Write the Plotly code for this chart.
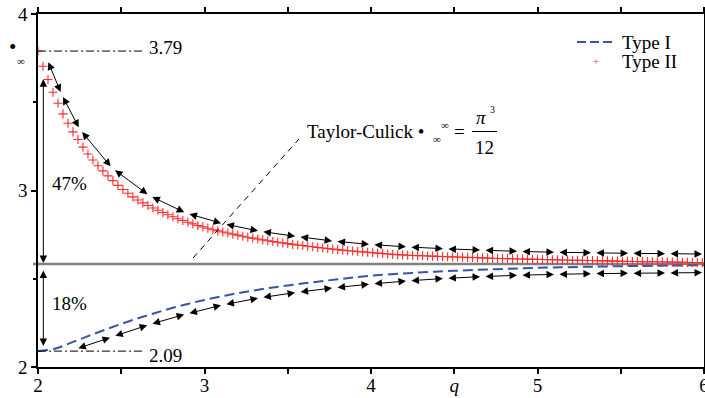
import numpy as np
import plotly.graph_objects as go

# ---------------- data ----------------
TC_LIMIT = np.pi ** 3 / 12          # Taylor-Culick value
MAX_VAL = 3.79
MIN_VAL = 2.09
PCT_UP = "47%"
PCT_DOWN = "18%"

type1_q = [2.0, 2.1, 2.2, 2.3, 2.4, 2.5, 2.6, 2.7, 2.8, 2.9, 3.0, 3.2, 3.4, 3.6,
           3.8, 4.0, 4.25, 4.5, 4.75, 5.0, 5.25, 5.5, 5.75, 6.0]
type1_y = [2.090, 2.103, 2.138, 2.175, 2.210, 2.244, 2.276, 2.305, 2.333, 2.357,
           2.380, 2.418, 2.449, 2.474, 2.497, 2.517, 2.533, 2.545, 2.554, 2.562,
           2.567, 2.571, 2.574, 2.577]

type2_y = [3.790, 3.704, 3.629, 3.557, 3.494, 3.434, 3.381, 3.332, 3.289, 3.246,
           3.207, 3.173, 3.140, 3.111, 3.083, 3.056, 3.029, 3.006, 2.984, 2.964,
           2.946, 2.930, 2.915, 2.901, 2.888, 2.875, 2.863, 2.851, 2.840, 2.830,
           2.820, 2.811, 2.802, 2.794,
           2.786, 2.778, 2.771, 2.765, 2.759, 2.753, 2.747, 2.741, 2.735, 2.730,
           2.725, 2.720, 2.715, 2.711, 2.707, 2.703, 2.699, 2.695, 2.691, 2.688,
           2.684, 2.681, 2.677, 2.674, 2.671, 2.668, 2.665, 2.662, 2.659, 2.657,
           2.654, 2.652, 2.650,
           2.647, 2.645, 2.643, 2.640, 2.638, 2.636, 2.635, 2.633, 2.632, 2.631,
           2.630, 2.629, 2.628, 2.627, 2.626, 2.625, 2.624, 2.623, 2.622, 2.621,
           2.620, 2.619, 2.618, 2.617, 2.616, 2.615, 2.615, 2.614, 2.613, 2.612,
           2.612, 2.611, 2.610,
           2.610, 2.609, 2.608, 2.608, 2.607, 2.606, 2.606, 2.605, 2.604, 2.604,
           2.603, 2.603, 2.602, 2.601, 2.601, 2.600, 2.600, 2.599, 2.599, 2.598,
           2.598, 2.597, 2.597, 2.596, 2.596, 2.595, 2.595, 2.594, 2.594, 2.593,
           2.593, 2.592, 2.592, 2.591]
type2_q = list(np.round(2.0 + 0.03 * np.arange(len(type2_y)), 2))

upper_q = [2.054, 2.14, 2.25, 2.444, 2.667, 2.889, 3.111, 3.333, 3.556, 3.778,
           4.0, 4.222, 4.444, 4.667, 4.889, 5.111, 5.333, 5.556, 5.778, 6.0]
upper_y = [3.745, 3.548, 3.348, 3.128, 2.972, 2.872, 2.812, 2.769, 2.739, 2.713,
           2.694, 2.680, 2.670, 2.662, 2.655, 2.650, 2.647, 2.644, 2.642, 2.640]

lower_q = [2.222, 2.444, 2.667, 2.889, 3.111, 3.333, 3.556, 3.778, 4.0, 4.222,
           4.444, 4.667, 4.889, 5.111, 5.333, 5.556, 5.778, 6.0]
lower_y = [2.100, 2.170, 2.240, 2.300, 2.352, 2.392, 2.423, 2.449, 2.470, 2.488,
           2.502, 2.512, 2.520, 2.525, 2.529, 2.531, 2.533, 2.535]

x_tickvals = [2, 2.5, 3, 3.5, 4, 4.5, 5, 5.5, 6]
x_ticktext = ["2", "", "3", "", "4", "<i>q</i>", "5", "", "6"]
y_tickvals = [2, 3, 4]
y_ticktext = ["2", "3", "4"]

# ---------------- layout helpers ----------------
W, H = 705, 398
ML, MR, MT, MB = 38, 1, 14, 31
X0, X1, Y0, Y1 = 2.0, 6.0, 2.0, 4.0
FONT = "Liberation Serif"
BLUE = "#3a52a8"
RED = "#ff2a2a"


def P(px, py):
    """pixel position -> data coordinates (for text placement only)"""
    x = X0 + (px - ML) * (X1 - X0) / (W - ML - MR)
    y = Y0 + (H - MB - py) * (Y1 - Y0) / (H - MT - MB)
    return x, y


fig = go.Figure()

fig.add_trace(go.Scatter(x=type1_q, y=type1_y, mode="lines", line_shape="spline",
                         line=dict(color=BLUE, width=2, dash="10px,5px"),
                         showlegend=False, hoverinfo="skip", cliponaxis=False))
fig.add_trace(go.Scatter(x=type2_q, y=type2_y, mode="markers",
                         marker=dict(symbol="cross-thin", size=6.5,
                                     line=dict(color=RED, width=1.1)),
                         showlegend=False, hoverinfo="skip"))

annotations = []


def txt(px, py, s, size=19, xanchor="left", color="black"):
    x, y = P(px, py)
    annotations.append(dict(x=x, y=y, xref="x", yref="y", text=s, showarrow=False,
                            xanchor=xanchor, yanchor="middle",
                            font=dict(family=FONT, size=size, color=color)))


def arrow(xa, ya, xb, yb, so=2):
    annotations.append(dict(x=xb, y=yb, ax=xa, ay=ya, xref="x", yref="y",
                            axref="x", ayref="y", text="", showarrow=True,
                            arrowhead=2, startarrowhead=2, arrowside="end+start",
                            arrowsize=1.5, startarrowsize=1.5, arrowwidth=1,
                            arrowcolor="black", standoff=so, startstandoff=so))


for i in range(len(upper_q) - 1):
    arrow(upper_q[i], upper_y[i], upper_q[i + 1], upper_y[i + 1])
for i in range(len(lower_q) - 1):
    arrow(lower_q[i], lower_y[i], lower_q[i + 1], lower_y[i + 1])

# vertical percentage arrows
arrow(2.032, 3.645, 2.032, TC_LIMIT, so=1)
arrow(2.032, TC_LIMIT, 2.032, MIN_VAL, so=5)

# labels
txt(50, 183, PCT_UP)
txt(50, 303, PCT_DOWN)
txt(147, 47, f"{MAX_VAL:.2f}")
txt(147, 355, f"{MIN_VAL:.2f}")

# Taylor-Culick annotation
txt(305, 131, "Taylor-Culick \u2022")
txt(437, 139, "\u221e", size=11, xanchor="center")
txt(445, 125, "\u221e", size=11, xanchor="center")
txt(459, 131, "=", xanchor="center")
txt(481, 117, "<i>\u03c0</i>", xanchor="center")
txt(492, 109, "3", size=10, xanchor="center")
txt(484, 147, "12", xanchor="center")

# y-axis label
ylx = (12 - ML) / (W - ML - MR)
annotations.append(dict(x=ylx, y=P(0, 47)[1], xref="paper", yref="y", text="\u2022",
                        showarrow=False, xanchor="center", yanchor="middle",
                        font=dict(family=FONT, size=21, color="black")))
annotations.append(dict(x=(21 - ML) / (W - ML - MR), y=P(0, 61)[1], xref="paper",
                        yref="y", text="\u221e", showarrow=False, xanchor="center",
                        yanchor="middle", font=dict(family=FONT, size=11, color="black")))

# manual legend
txt(620, 42, "Type I")
txt(620, 61, "Type II")
txt(596, 61, "+", size=11, xanchor="center", color=RED)

shapes = []
# Taylor-Culick horizontal line
shapes.append(dict(type="line", xref="paper", yref="y", x0=-5 / (W - ML - MR), x1=1,
                   y0=TC_LIMIT, y1=TC_LIMIT, line=dict(color="#808080", width=2.5),
                   layer="below"))
# dash-dot reference lines
shapes.append(dict(type="line", xref="x", yref="y", x0=2.0, x1=2.63, y0=MAX_VAL,
                   y1=MAX_VAL, line=dict(color="black", width=1, dash="8px,3px,2px,3px")))
shapes.append(dict(type="line", xref="x", yref="y", x0=2.0, x1=2.63, y0=MIN_VAL,
                   y1=MIN_VAL, line=dict(color="black", width=1, dash="8px,3px,2px,3px")))
# leader line to Taylor-Culick label
a = P(193, 258)
b = P(299, 139)
shapes.append(dict(type="line", xref="x", yref="y", x0=a[0], y0=a[1], x1=b[0], y1=b[1],
                   line=dict(color="black", width=1, dash="6px,5px")))
# fraction bar
f0 = P(472, 131.5)
f1 = P(497, 131.5)
shapes.append(dict(type="line", xref="x", yref="y", x0=f0[0], y0=f0[1], x1=f1[0],
                   y1=f1[1], line=dict(color="black", width=1)))
# legend dashed sample
l0 = P(577, 42)
l1 = P(613, 42)
shapes.append(dict(type="line", xref="x", yref="y", x0=l0[0], y0=l0[1], x1=l1[0],
                   y1=l1[1], line=dict(color=BLUE, width=2, dash="9px,4px")))

axis_common = dict(showline=True, linecolor="black", linewidth=1.5, mirror="ticks",
                   ticks="outside", ticklen=5, tickwidth=1.5, tickcolor="black",
                   showgrid=False, zeroline=False, ticklabeloverflow="allow",
                   tickfont=dict(family=FONT, size=19, color="black"))

fig.update_layout(
    width=W, height=H, autosize=False,
    margin=dict(l=ML, r=MR, t=MT, b=MB, pad=0, autoexpand=False),
    plot_bgcolor="white", paper_bgcolor="white",
    showlegend=False,
    xaxis=dict(range=[X0, X1], tickmode="array", tickvals=x_tickvals,
               ticktext=x_ticktext, automargin=False, ticklabelstandoff=-5,
               **axis_common),
    yaxis=dict(range=[Y0, Y1], tickmode="array", tickvals=y_tickvals,
               ticktext=y_ticktext, automargin=False,
               minor=dict(tickvals=[2.5, 3.5], ticklen=3, tickwidth=1.5,
                          tickcolor="black", ticks="outside"),
               **axis_common),
    annotations=annotations,
    shapes=shapes,
)

fig.write_html(
    "out.html",
    config={"displayModeBar": False},
    post_script="document.body.style.margin='0';document.body.style.padding='0';"
                "document.body.style.overflow='hidden';",
)
